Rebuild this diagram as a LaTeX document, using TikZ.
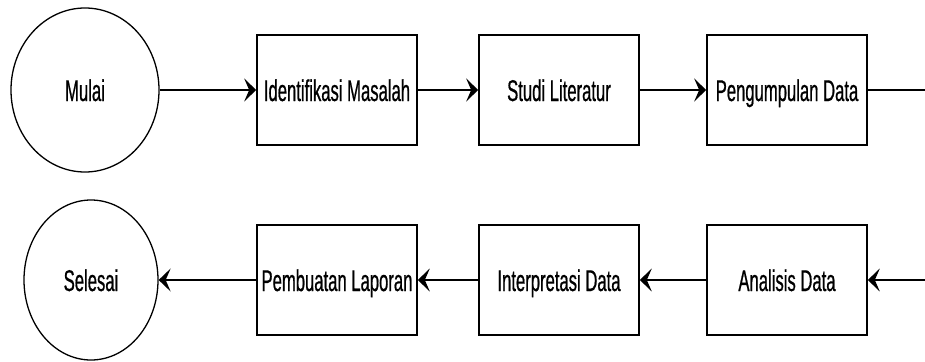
\documentclass[tikz,border=0pt]{standalone}
\usepackage{fontspec}
\setmainfont{Liberation Sans}[FakeStretch=0.555, FakeBold=0.6]
\usetikzlibrary{shapes.geometric,arrows.meta}

\tikzset{
  stepbox/.style={draw=black, line width=1.6pt, fill=white, rectangle,
    minimum width=160pt, minimum height=110pt, inner sep=0pt,
    text height=22pt, text depth=0pt,
    font=\fontsize{30}{34}\selectfont},
  terminal/.style={draw=black, line width=1.3pt, fill=white, ellipse,
    inner sep=0pt, text height=22pt, text depth=0pt,
    font=\fontsize{30}{34}\selectfont},
  flow/.style={draw=black, line width=1.8pt,
    -{Stealth[length=12pt, width=23pt, inset=5pt]}},
  plain/.style={draw=black, line width=1.8pt}
}

\begin{document}
\begin{tikzpicture}[x=1pt, y=-1pt]
  \useasboundingbox (0,0) rectangle (925,361);

  % top row
  \node[terminal, minimum width=148pt, minimum height=164pt] (mulai) at (85,90) {Mulai};
  \node[stepbox] (ident) at (337,90) {Identifikasi Masalah};
  \node[stepbox] (studi) at (559,90) {Studi Literatur};
  \node[stepbox] (kumpul) at (787,90) {Pengumpulan Data};
  \coordinate (outR) at (925,90);

  % bottom row
  \node[terminal, minimum width=134pt, minimum height=160pt] (selesai) at (91,280) {Selesai};
  \node[stepbox] (laporan) at (337,280) {Pembuatan Laporan};
  \node[stepbox] (interp) at (559,280) {Interpretasi Data};
  \node[stepbox] (analisis) at (787,280) {Analisis Data};
  \coordinate (inR) at (925,280);

  % connectors
  \draw[flow] (mulai) -- (ident);
  \draw[flow] (ident) -- (studi);
  \draw[flow] (studi) -- (kumpul);
  \draw[plain] (kumpul) -- (outR);
  \draw[flow] (inR) -- (analisis);
  \draw[flow] (analisis) -- (interp);
  \draw[flow] (interp) -- (laporan);
  \draw[flow] (laporan) -- (selesai);
\end{tikzpicture}
\end{document}
